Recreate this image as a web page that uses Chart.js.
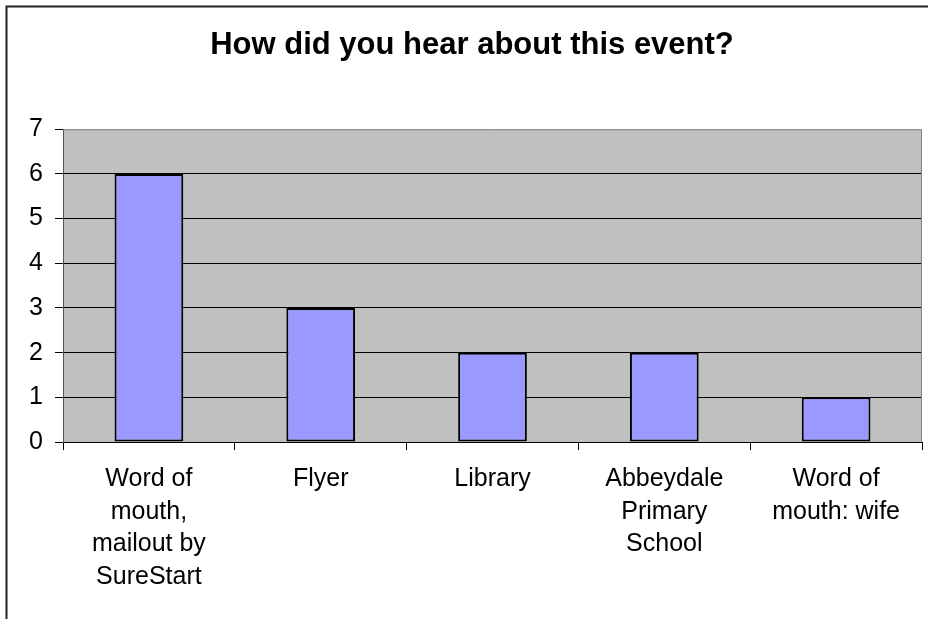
<!DOCTYPE html>
<html>
<head>
<meta charset="utf-8">
<script src="https://cdn.jsdelivr.net/npm/chart.js@4"></script>
<style>
  body { margin: 0; background: #fff; }
  canvas { display: block; }
</style>
</head>
<body>
<canvas id="myChart" width="928" height="619"></canvas>
<script>
// chart data
const categories = [
    ['Word of', 'mouth,', 'mailout by', 'SureStart'],
    'Flyer',
    'Library',
    ['Abbeydale', 'Primary', 'School'],
    ['Word of', 'mouth: wife']
];
const responses = [6, 3, 2, 2, 1];
const yMin = 0;
const yMax = 7;

const FONT = "'Liberation Sans', Arial, sans-serif";

// excel-ish frame + grey plot area
const frame = {
    id: 'frame',
    beforeDraw(chart) {
        const { ctx, chartArea: a } = chart;
        ctx.save();
        ctx.fillStyle = '#fff';
        ctx.fillRect(0, 0, chart.width, chart.height);
        ctx.fillStyle = '#c0c0c0';
        ctx.fillRect(a.left, a.top, a.right - a.left, a.bottom - a.top);
        ctx.strokeStyle = '#222';
        ctx.lineWidth = 2;
        ctx.beginPath();
        ctx.moveTo(6.5, chart.height + 2);
        ctx.lineTo(6.5, 6.5);
        ctx.lineTo(chart.width + 2, 6.5);
        ctx.stroke();
        ctx.restore();
    },
    afterDraw(chart) {
        const { ctx, chartArea: a } = chart;
        ctx.save();
        ctx.strokeStyle = '#808080';
        ctx.lineWidth = 1;
        ctx.beginPath();
        ctx.moveTo(a.left, a.top + 0.5);
        ctx.lineTo(a.right - 0.5, a.top + 0.5);
        ctx.lineTo(a.right - 0.5, a.bottom);
        ctx.stroke();
        ctx.restore();
    }
};

const ctx = document.getElementById('myChart');
new Chart(ctx, {
    type: 'bar',
    data: {
        labels: categories,
        datasets: [{
            data: responses,
            backgroundColor: '#9999ff',
            borderColor: '#000',
            borderWidth: 2,
            borderSkipped: false,
            categoryPercentage: 1,
            barPercentage: 0.4
        }]
    },
    options: {
        responsive: false,
        animation: false,
        layout: { padding: { left: 22, right: 6, top: 0, bottom: 0 } },
        plugins: {
            legend: { display: false },
            tooltip: { enabled: false },
            title: {
                display: true,
                text: 'How did you hear about this event?',
                color: '#000',
                font: { family: FONT, size: 31, weight: 'bold', lineHeight: 1.2 },
                padding: { top: 27, bottom: 65 }
            }
        },
        scales: {
            x: {
                afterFit(s) { s.height = 619 - 442; },
                grid: {
                    offset: true,
                    drawOnChartArea: false,
                    drawTicks: true,
                    tickLength: 8,
                    color: '#000'
                },
                border: { color: '#000', width: 1 },
                ticks: {
                    color: '#000',
                    padding: 13,
                    maxRotation: 0,
                    autoSkip: false,
                    font: { family: FONT, size: 25, lineHeight: 1.3 }
                }
            },
            y: {
                min: yMin,
                max: yMax,
                afterFit(s) { s.width = 63 - 22; },
                grid: {
                    color: (c) => c.tick && c.tick.value === yMax ? 'rgba(0,0,0,0)' : '#000',
                    tickColor: '#000',
                    tickLength: 8
                },
                border: { color: '#555', width: 1 },
                ticks: {
                    stepSize: 1,
                    color: '#000',
                    padding: 12,
                    font: { family: FONT, size: 25 }
                }
            }
        }
    },
    plugins: [frame]
});
</script>
</body>
</html>
